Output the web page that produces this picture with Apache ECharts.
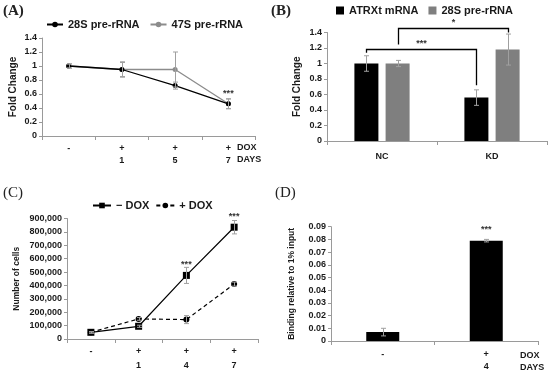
<!DOCTYPE html>
<html><head><meta charset="utf-8">
<script src="https://cdn.jsdelivr.net/npm/echarts@6/dist/echarts.min.js"></script>
<style>html,body{margin:0;padding:0;background:#fff}#c{width:550px;height:373px}</style>
</head><body><div id="c"></div>
<script>
// ---------- Panel A ----------
const aCategories = ['-', '+\n1', '+\n5', '+\n7'];
const a28S = [1.0, 0.95, 0.72, 0.46];
const a28SErr = [0.03, 0.11, 0.05, 0.07];
const a47S = [1.0, 0.95, 0.95, 0.46];
const a47SErr = [0.03, 0.1, 0.25, 0.07];
const aStars = [[3, 0.6, '***']];
const aYTicks = {min: 0, max: 1.4, interval: 0.2};
// ---------- Panel B ----------
const bCategories = ['NC', 'KD'];
const bATRX = [1.0, 0.56];
const bATRXErr = [0.1, 0.1];
const b28S = [1.0, 1.18];
const b28SErr = [0.04, 0.2];
// [fromCat, fromSide, fromY, barY, toCat, toSide, toY, label]
const bBrackets = [[0, -1, 1.14, 1.19, 1, -1, 0.72, '***'], [0, 1, 1.245, 1.46, 1, 1, 1.40, '*']];
const bYTicks = {min: 0, max: 1.4, interval: 0.2};
// ---------- Panel C ----------
const cCategories = ['-', '+\n1', '+\n4', '+\n7'];
const cMinusDox = [50000, 95000, 475000, 835000];
const cMinusDoxErr = [6000, 8000, 60000, 50000];
const cPlusDox = [50000, 150000, 145000, 410000];
const cPlusDoxErr = [6000, 10000, 30000, 15000];
const cStars = [[2, 560000, '***'], [3, 915000, '***']];
const cYTicks = {min: 0, max: 900000, interval: 100000};
// ---------- Panel D ----------
const dCategories = ['-', '+\n4'];
const dValues = [0.007, 0.079];
const dErr = [0.003, 0.001];
const dStars = [[1, 0.088, '***']];
const dYTicks = {min: 0, max: 0.09, interval: 0.01};

const FONT = "'Liberation Sans', Arial, sans-serif";
const SERIF = "'Liberation Serif', 'Times New Roman', serif";
const AX = '#9a9a9a';
const ERR = '#a0a0a0';
const TXT = '#1a1a1a';
const BAR_W = 24, BAR_GAP = 0.3;

function errRender(side) {
  return function (params, api) {
    const i = api.value(0), v = api.value(1), e = api.value(2);
    const off = side ? side * BAR_W * (1 + BAR_GAP) / 2 : 0;
    const top = api.coord([i, v + e]), bot = api.coord([i, v - e]);
    const x = Math.round(top[0] + off) + 0.5;
    const cap = 2.5;
    const st = {stroke: ERR, lineWidth: 1};
    return {type: 'group', children: [
      {type: 'line', shape: {x1: x, y1: top[1], x2: x, y2: bot[1]}, style: st},
      {type: 'line', shape: {x1: x - cap, y1: top[1], x2: x + cap, y2: top[1]}, style: st},
      {type: 'line', shape: {x1: x - cap, y1: bot[1], x2: x + cap, y2: bot[1]}, style: st}
    ]};
  };
}
function starRender(list, size) {
  return function (params, api) {
    const p = api.coord([api.value(0), api.value(1)]);
    return {type: 'text', x: p[0], y: p[1], style: {text: list[params.dataIndex][2], align: 'center', verticalAlign: 'middle', fontSize: size, fontWeight: 'bold', fontFamily: FONT, fill: '#333'}};
  };
}
function bracketRender(params, api) {
  const b = bBrackets[params.dataIndex];
  const off = BAR_W * (1 + BAR_GAP) / 2;
  const x0 = Math.round(api.coord([b[0], 0])[0] + b[1] * off) + 0.5;
  const x1 = Math.round(api.coord([b[4], 0])[0] + b[5] * off) + 0.5;
  const y0 = api.coord([b[0], b[2]])[1];
  const yb = Math.round(api.coord([b[0], b[3]])[1]) + 0.5;
  const y1 = api.coord([b[4], b[6]])[1];
  return {type: 'group', children: [
    {type: 'polyline', shape: {points: [[x0, y0], [x0, yb], [x1, yb], [x1, y1]]}, style: {stroke: '#000', lineWidth: 1.3, fill: null}},
    {type: 'text', x: (x0 + x1) / 2, y: yb - 1, style: {text: b[7], align: 'center', verticalAlign: 'bottom', fontSize: 9, fontWeight: 'bold', fontFamily: FONT, fill: '#333'}}
  ]};
}
function catAxis(gi, data, lh, margin) {
  return {type: 'category', gridIndex: gi, data: data, boundaryGap: true,
    axisLine: {lineStyle: {color: AX}}, axisTick: {show: true, length: 4, lineStyle: {color: AX}},
    axisLabel: {fontSize: 9, fontWeight: 'bold', fontFamily: FONT, color: TXT, lineHeight: lh, margin: margin, interval: 0}};
}
function valAxis(gi, t, name, gap, nsize, fmt) {
  return {type: 'value', gridIndex: gi, min: t.min, max: t.max, interval: t.interval,
    splitLine: {show: false},
    axisLine: {show: true, lineStyle: {color: AX}}, axisTick: {show: true, length: 3, lineStyle: {color: AX}},
    axisLabel: {fontSize: 9, fontWeight: 'bold', fontFamily: FONT, color: TXT, margin: 5, formatter: fmt},
    name: name, nameLocation: 'middle', nameGap: gap, nameRotate: 90,
    nameTextStyle: {fontSize: nsize, fontWeight: 'bold', fontFamily: FONT, color: TXT}};
}
const toPts = (vals, errs) => vals.map((v, i) => [i, v, errs[i]]);

const chart = echarts.init(document.getElementById('c'), null, {renderer: 'canvas'});
chart.setOption({
  animation: false,
  backgroundColor: '#fff',
  title: [
    {text: '(A)', left: 3, top: 4, padding: 0, textStyle: {fontFamily: SERIF, fontSize: 15, fontWeight: 'bold', color: '#222'}},
    {text: '(B)', left: 271, top: 4, padding: 0, textStyle: {fontFamily: SERIF, fontSize: 15, fontWeight: 'bold', color: '#222'}},
    {text: '(C)', left: 3, top: 186, padding: 0, textStyle: {fontFamily: SERIF, fontSize: 15, fontWeight: 'normal', color: '#222'}},
    {text: '(D)', left: 275, top: 186, padding: 0, textStyle: {fontFamily: SERIF, fontSize: 15, fontWeight: 'normal', color: '#222'}},
    {text: 'DOX\nDAYS', left: 237, top: 142, padding: 0, textStyle: {fontFamily: FONT, fontSize: 9, fontWeight: 'bold', lineHeight: 12, color: TXT}},
    {text: 'DOX\nDAYS', left: 520, top: 350, padding: 0, textStyle: {fontFamily: FONT, fontSize: 9, fontWeight: 'bold', lineHeight: 12, color: TXT}}
  ],
  legend: [
    {left: 46, top: 19, padding: 0, itemWidth: 16, itemHeight: 7, itemGap: 10, data: ['28S pre-rRNA', '47S pre-rRNA'],
      textStyle: {fontSize: 11, fontWeight: 'bold', fontFamily: FONT, color: TXT}},
    {left: 336, top: 5, padding: 0, icon: 'rect', itemWidth: 8, itemHeight: 8, itemGap: 10, data: ['ATRXt mRNA', '28S pre-rRNA '],
      textStyle: {fontSize: 11, fontWeight: 'bold', fontFamily: FONT, color: TXT}},
    {left: 92, top: 200, padding: 0, itemWidth: 18, itemHeight: 7, itemGap: 6, data: ['− DOX', '+ DOX'],
      textStyle: {fontSize: 11, fontWeight: 'bold', fontFamily: FONT, color: TXT}}
  ],
  grid: [
    {left: 42, top: 38, width: 213, height: 98},
    {left: 327, top: 32.5, width: 220, height: 108.5},
    {left: 67, top: 218.5, width: 191, height: 124.5},
    {left: 331, top: 226.7, width: 207, height: 116}
  ],
  xAxis: [
    catAxis(0, aCategories, 12, 7),
    catAxis(1, bCategories, 12, 10),
    catAxis(2, cCategories, 14, 6),
    catAxis(3, dCategories, 12, 8)
  ],
  yAxis: [
    valAxis(0, aYTicks, 'Fold Change', 24, 10),
    valAxis(1, bYTicks, 'Fold Change', 25, 10),
    valAxis(2, cYTicks, 'Number of cells', 46, 8.5, v => v.toLocaleString('en-US')),
    valAxis(3, dYTicks, 'Binding relative to 1% input', 35, 8.5, v => v === 0 ? '0' : v.toFixed(2))
  ],
  series: [
    // A
    {name: '28S pre-rRNA', type: 'line', xAxisIndex: 0, yAxisIndex: 0, data: a28S, color: '#000',
      symbol: 'circle', symbolSize: 5, lineStyle: {width: 1.3, color: '#000'}, itemStyle: {color: '#000'}, z: 3},
    {name: '47S pre-rRNA', type: 'line', xAxisIndex: 0, yAxisIndex: 0, data: a47S, color: '#8c8c8c',
      symbol: 'circle', symbolSize: 5, lineStyle: {width: 1.3, color: '#8c8c8c'}, itemStyle: {color: '#8c8c8c'}, z: 2},
    {type: 'custom', xAxisIndex: 0, yAxisIndex: 0, renderItem: errRender(0), data: toPts(a28S, a28SErr), z: 4},
    {type: 'custom', xAxisIndex: 0, yAxisIndex: 0, renderItem: errRender(0), data: toPts(a47S, a47SErr), z: 4},
    {type: 'custom', xAxisIndex: 0, yAxisIndex: 0, renderItem: starRender(aStars, 9), data: aStars.map(s => [s[0], s[1]]), z: 5},
    // B
    {name: 'ATRXt mRNA', type: 'bar', xAxisIndex: 1, yAxisIndex: 1, data: bATRX, barWidth: BAR_W, barGap: '30%', itemStyle: {color: '#000'}, color: '#000'},
    {name: '28S pre-rRNA ', type: 'bar', xAxisIndex: 1, yAxisIndex: 1, data: b28S, barWidth: BAR_W, barGap: '30%', itemStyle: {color: '#7f7f7f'}, color: '#7f7f7f'},
    {type: 'custom', xAxisIndex: 1, yAxisIndex: 1, renderItem: errRender(-1), data: toPts(bATRX, bATRXErr), z: 4},
    {type: 'custom', xAxisIndex: 1, yAxisIndex: 1, renderItem: errRender(1), data: toPts(b28S, b28SErr), z: 4},
    {type: 'custom', xAxisIndex: 1, yAxisIndex: 1, renderItem: bracketRender, data: bBrackets.map(b => [b[0], b[3]]), z: 5},
    // C
    {name: '− DOX', type: 'line', xAxisIndex: 2, yAxisIndex: 2, data: cMinusDox, color: '#000',
      symbol: 'rect', symbolSize: 7, lineStyle: {width: 1.2, color: '#000'}, itemStyle: {color: '#000'}, z: 3},
    {name: '+ DOX', type: 'line', xAxisIndex: 2, yAxisIndex: 2, data: cPlusDox, color: '#000',
      symbol: 'circle', symbolSize: 6, lineStyle: {width: 1.2, color: '#000', type: [4, 3]}, itemStyle: {color: '#000'}, z: 3},
    {type: 'custom', xAxisIndex: 2, yAxisIndex: 2, renderItem: errRender(0), data: toPts(cMinusDox, cMinusDoxErr), z: 4},
    {type: 'custom', xAxisIndex: 2, yAxisIndex: 2, renderItem: errRender(0), data: toPts(cPlusDox, cPlusDoxErr), z: 4},
    {type: 'custom', xAxisIndex: 2, yAxisIndex: 2, renderItem: starRender(cStars, 9), data: cStars.map(s => [s[0], s[1]]), z: 5},
    // D
    {name: 'Binding', type: 'bar', xAxisIndex: 3, yAxisIndex: 3, data: dValues, barWidth: 33, itemStyle: {color: '#000'}},
    {type: 'custom', xAxisIndex: 3, yAxisIndex: 3, renderItem: errRender(0), data: toPts(dValues, dErr), z: 4},
    {type: 'custom', xAxisIndex: 3, yAxisIndex: 3, renderItem: starRender(dStars, 9), data: dStars.map(s => [s[0], s[1]]), z: 5}
  ]
});
</script></body></html>
